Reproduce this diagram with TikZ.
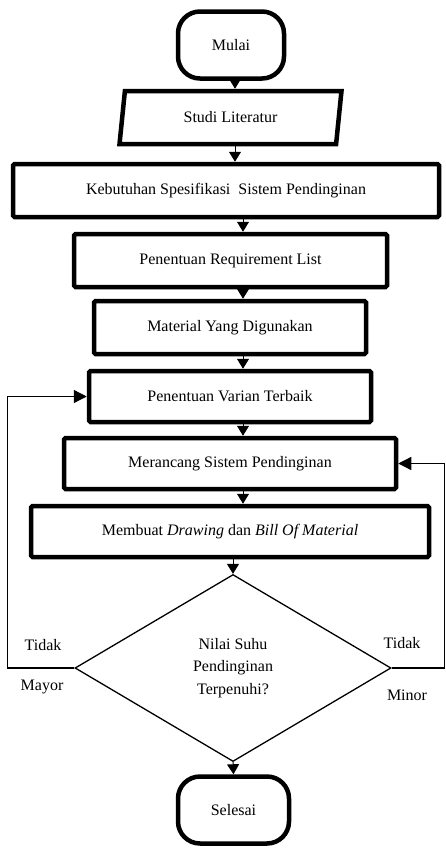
\documentclass[tikz,border=0pt]{standalone}
\usepackage{fontspec}
\setmainfont{Liberation Serif}
\usetikzlibrary{shapes.geometric,arrows.meta}

\begin{document}
\begin{tikzpicture}[x=1pt,y=1pt,yscale=-1,xscale=1,
    font=\fontsize{16}{22.5}\selectfont,
    terminal/.style={draw,line width=4.5pt,rounded corners=22pt,minimum width=#1,minimum height=67pt,inner sep=0pt},
    prosesbox/.style={draw,line width=4.5pt,rounded corners=1.5pt,minimum width=#1,minimum height=53pt,inner sep=0pt},
    arr/.style={line width=1pt,-{Triangle[width=12pt,length=10pt]}},
    fb/.style={line width=1.3pt,-{Triangle[width=13pt,length=13pt]}}]
\useasboundingbox (0,0) rectangle (445,849);

% Nodes
\node[terminal=106pt] (mulai) at (231,45) {Mulai};
\node[draw,line width=4.5pt,trapezium,trapezium left angle=78,trapezium right angle=102,trapezium stretches=true,minimum width=223pt,minimum height=53pt,inner sep=0pt] (studi) at (230.5,117.5) {Studi Literatur};
\node[prosesbox=426pt] (kebutuhan) at (226,190.5) {Kebutuhan Spesifikasi~ Sistem Pendinginan};
\node[prosesbox=313pt] (req) at (230.5,260.5) {Penentuan Requirement List};
\node[prosesbox=272pt] (material) at (230,327.5) {Material Yang Digunakan};
\node[prosesbox=282pt,minimum height=51pt] (varian) at (230,396.5) {Penentuan Varian Terbaik};
\node[prosesbox=332pt,minimum height=51pt] (merancang) at (230,463.5) {Merancang Sistem Pendinginan};
\node[prosesbox=398pt,minimum height=51pt] (membuat) at (230,531.5) {Membuat \textit{Drawing} dan \textit{Bill Of Material}};
\node[draw,line width=1.3pt,diamond,minimum width=316pt,minimum height=187pt,inner sep=0pt,align=center] (cek) at (233,668) {Nilai Suhu\\Pendinginan\\Terpenuhi?};
\node[terminal=111pt] (selesai) at (233.5,810) {Selesai};

% Text Node
\node (tidakL) at (43,645) {Tidak};
\node (mayor) at (42,687) {Mayor};
\node (tidakR) at (402,643) {Tidak};
\node (minor) at (407,695) {Minor};

% helper x positions of the arrows
\coordinate (xa) at (235,0);
\coordinate (xb) at (243,0);

%Straight Lines
\draw[arr] (mulai.south -| xa) -- (studi.north -| xa);
\draw[arr] (studi.south -| xa) -- (kebutuhan.north -| xa);
\draw[arr] (kebutuhan.south -| xb) -- (req.north -| xb);
\draw[arr] (req.south -| xb) -- (material.north -| xb);
\draw[arr] (material.south -| xb) -- (varian.north -| xb);
\draw[arr] (varian.south -| xb) -- (merancang.north -| xb);
\draw[arr] (merancang.south -| xb) -- (membuat.north -| xb);
\draw[arr] (membuat.south -| cek.north) -- (cek.north);
\draw[arr] (cek.south) -- (selesai.north);

%Feedback Lines
\draw[fb] (cek.west) -- ++(-67,0) |- (varian.west);
\draw[fb] (cek.east) -- ++(53,0) |- (merancang.east);
\end{tikzpicture}
\end{document}
